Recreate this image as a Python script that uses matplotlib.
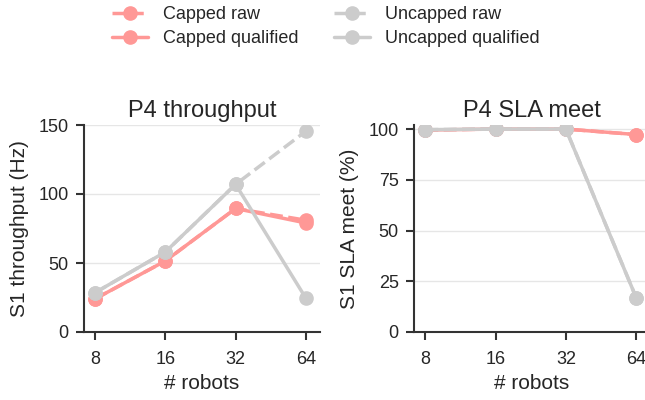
import matplotlib
matplotlib.use('Agg')
import matplotlib.pyplot as plt
import seaborn as sns

sns.set_style('ticks')
plt.rcParams['font.family'] = ['Liberation Sans', 'DejaVu Sans']

robots = [8, 16, 32, 64]

# throughput (Hz)
capped_raw_tp = [24, 51.5, 89.5, 81]
capped_qual_tp = [24, 51.5, 89.5, 79]
uncapped_raw_tp = [28.5, 58, 107, 145.5]
uncapped_qual_tp = [28.5, 58, 107, 24.5]

# SLA meet (%)
capped_raw_sla = [99.5, 100, 100, 97.3]
capped_qual_sla = [99.5, 100, 100, 97.3]
uncapped_raw_sla = [99.7, 100, 100, 17]
uncapped_qual_sla = [99.7, 100, 100, 17]

red = '#ff9896'
grey = '#cccccc'
spine_col = '#333333'
text_col = '#262626'

fig = plt.figure(figsize=(6.45, 4), dpi=100)
ax1 = fig.add_axes([0.130, 0.17, 0.366, 0.5175])
ax2 = fig.add_axes([0.642, 0.17, 0.366, 0.5175])

x = range(len(robots))


def draw(ax, cr, cq, ur, uq):
    lw, ms = 2.5, 9.5
    ax.plot(x, cr, '--', color=red, lw=lw, marker='o', ms=ms, label='Capped raw')
    ax.plot(x, cq, '-', color=red, lw=lw, marker='o', ms=ms, label='Capped qualified')
    ax.plot(x, ur, '--', color=grey, lw=lw, marker='o', ms=ms, label='Uncapped raw')
    ax.plot(x, uq, '-', color=grey, lw=lw, marker='o', ms=ms, label='Uncapped qualified')
    ax.set_xticks(list(x))
    ax.set_xticklabels([str(r) for r in robots])
    ax.set_xlim(-0.16, 3.2)
    ax.set_xlabel('# robots', fontsize=15, color=text_col, labelpad=4)
    ax.yaxis.grid(True, color='#e6e6e6', lw=1)
    ax.set_axisbelow(True)
    for s in ['top', 'right']:
        ax.spines[s].set_visible(False)
    for s in ['left', 'bottom']:
        ax.spines[s].set_color(spine_col)
        ax.spines[s].set_linewidth(1.5)
    ax.tick_params(labelsize=13, colors=spine_col, width=1.5, length=6, labelcolor=text_col)
    ax.tick_params(axis='x', pad=8)
    ax.tick_params(axis='y', pad=5)


draw(ax1, capped_raw_tp, capped_qual_tp, uncapped_raw_tp, uncapped_qual_tp)
ax1.set_ylim(0, 150)
ax1.set_yticks([0, 50, 100, 150])
ax1.set_ylabel('S1 throughput (Hz)', fontsize=15, color=text_col, labelpad=7)
ax1.set_title('P4 throughput', fontsize=17, color=text_col)

draw(ax2, capped_raw_sla, capped_qual_sla, uncapped_raw_sla, uncapped_qual_sla)
ax2.set_ylim(0, 102)
ax2.set_yticks([0, 25, 50, 75, 100])
ax2.set_ylabel('S1 SLA meet (%)', fontsize=15, color=text_col, labelpad=7)
ax2.set_title('P4 SLA meet', fontsize=17, color=text_col)

handles, labels = ax1.get_legend_handles_labels()
fig.legend(handles, labels,
           loc='upper center', bbox_to_anchor=(0.505, 1.025), ncol=2,
           frameon=False, fontsize=13, columnspacing=2.0, handlelength=2,
           labelspacing=0.4, labelcolor=text_col)

fig.savefig('out.png', dpi=100)
